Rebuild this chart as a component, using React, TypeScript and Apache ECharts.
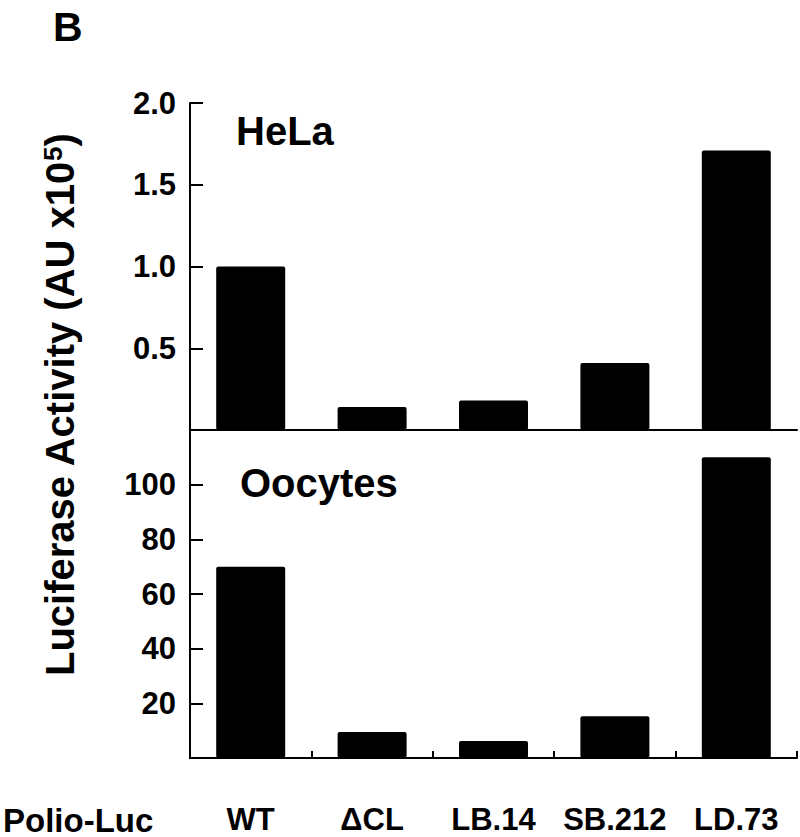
import React, { useEffect, useRef } from "react";
import * as echarts from "echarts";

const categories = ["WT", "ΔCL", "LB.14", "SB.212", "LD.73"];
const helaValues = [1.0, 0.14, 0.18, 0.41, 1.71];
const oocyteValues = [70, 9.5, 6.2, 15.3, 110];
const helaTicks = [0.5, 1.0, 1.5, 2.0];
const oocyteTicks = [20, 40, 60, 80, 100];

const FONT = "'Liberation Sans', Arial, Helvetica, sans-serif";
const axisLineStyle = { color: "#000", width: 2 };

export default function App() {
  const ref = useRef<HTMLDivElement>(null);
  useEffect(() => {
    if (!ref.current) return;
    const chart = echarts.init(ref.current, null, { renderer: "svg" });
    const tickLabel = {
      color: "#000",
      fontSize: 31,
      fontWeight: "bold" as const,
      fontFamily: FONT,
    };
    chart.setOption({
      animation: false,
      backgroundColor: "#fff",
      grid: [
        { left: 190, top: 103, width: 607, height: 327 },
        { left: 190, top: 430, width: 607, height: 328 },
      ],
      xAxis: [
        {
          gridIndex: 0,
          type: "category",
          data: categories,
          axisLine: { show: true, lineStyle: axisLineStyle },
          axisTick: { show: false },
          axisLabel: { show: false },
        },
        {
          gridIndex: 1,
          type: "category",
          data: categories,
          axisLine: { show: true, lineStyle: axisLineStyle },
          axisTick: { show: true, inside: true, length: 7, lineStyle: axisLineStyle },
          axisLabel: {
            interval: 0,
            margin: 46,
            color: "#000",
            fontSize: 31,
            fontWeight: "bold",
            fontFamily: FONT,
          },
        },
      ],
      yAxis: [
        {
          gridIndex: 0,
          type: "value",
          min: 0,
          max: 2,
          interval: 0.5,
          splitLine: { show: false },
          axisLine: { show: true, lineStyle: axisLineStyle },
          axisTick: { show: true, inside: true, length: 13, lineStyle: axisLineStyle, customValues: helaTicks },
          axisLabel: {
            ...tickLabel,
            margin: 14,
            customValues: helaTicks,
            formatter: (v: number) => v.toFixed(1),
          },
        },
        {
          gridIndex: 1,
          type: "value",
          min: 0,
          max: 120,
          interval: 20,
          splitLine: { show: false },
          axisLine: { show: true, lineStyle: axisLineStyle },
          axisTick: { show: true, inside: true, length: 13, lineStyle: axisLineStyle, customValues: oocyteTicks },
          axisLabel: {
            ...tickLabel,
            margin: 14,
            customValues: oocyteTicks,
          },
        },
      ],
      series: [
        {
          type: "bar",
          xAxisIndex: 0,
          yAxisIndex: 0,
          data: helaValues,
          barWidth: 69,
          itemStyle: { color: "#000", borderRadius: 2 },
        },
        {
          type: "bar",
          xAxisIndex: 1,
          yAxisIndex: 1,
          data: oocyteValues,
          barWidth: 69,
          itemStyle: { color: "#000", borderRadius: 2 },
        },
      ],
      graphic: [
        {
          type: "text",
          x: 53,
          y: 27,
          style: {
            text: "B",
            fontSize: 41,
            fontWeight: "bold",
            fontFamily: FONT,
            fill: "#000",
            textAlign: "left",
            textVerticalAlign: "middle",
          },
        },
        {
          type: "text",
          x: 236,
          y: 131,
          style: {
            text: "HeLa",
            fontSize: 40,
            fontWeight: "bold",
            fontFamily: FONT,
            fill: "#000",
            textAlign: "left",
            textVerticalAlign: "middle",
          },
        },
        {
          type: "text",
          x: 240,
          y: 483,
          style: {
            text: "Oocytes",
            fontSize: 40,
            fontWeight: "bold",
            fontFamily: FONT,
            fill: "#000",
            textAlign: "left",
            textVerticalAlign: "middle",
          },
        },
        {
          type: "text",
          x: 3,
          y: 820,
          style: {
            text: "Polio-Luc",
            fontSize: 33,
            fontWeight: "bold",
            fontFamily: FONT,
            fill: "#000",
            textAlign: "left",
            textVerticalAlign: "middle",
          },
        },
        {
          type: "text",
          x: 60,
          y: 405,
          rotation: Math.PI / 2,
          style: {
            text: "{m|Luciferase Activity (AU x10}{s|5}{m|)}",
            textAlign: "center",
            textVerticalAlign: "middle",
            fill: "#000",
            rich: {
              m: { fontSize: 40, fontWeight: "bold", fontFamily: FONT, fill: "#000" },
              s: { fontSize: 26, fontWeight: "bold", fontFamily: FONT, fill: "#000", verticalAlign: "top" },
            },
          },
        },
      ],
    });
    return () => chart.dispose();
  }, []);
  return (
    <div
      ref={ref}
      style={{ position: "fixed", left: 0, top: 0, width: 800, height: 837 }}
    />
  );
}
